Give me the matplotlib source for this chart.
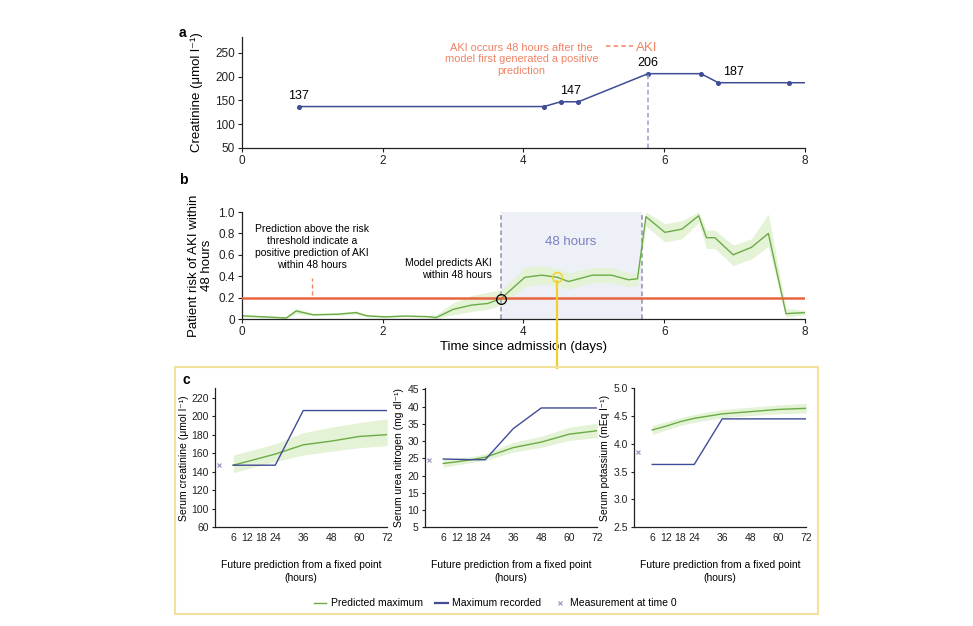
import matplotlib
matplotlib.use('Agg')
import matplotlib.pyplot as plt
import numpy as np
from matplotlib.lines import Line2D
from matplotlib.patches import Rectangle

plt.rcParams['font.family'] = ['Liberation Sans', 'DejaVu Sans']

# panel a: creatinine measurements
creat_days = [0.81, 4.29, 4.53, 4.78, 5.77, 6.52, 6.77, 7.77]
creat_vals = [137, 137, 147, 147, 206, 206, 187, 187]
creat_lbl_x = [0.81, 4.67, 5.77, 6.98]
creat_lbl_y = [137, 147, 206, 187]
aki_day = 5.77

# panel b: predicted risk of AKI within 48 hours
risk_days = [0, 0.32, 0.63, 0.77, 1.01, 1.36, 1.62, 1.77, 2.03, 2.31, 2.64, 2.76,
             3.0, 3.26, 3.49, 3.68, 4.02, 4.26, 4.48, 4.64, 4.98, 5.25, 5.49, 5.62,
             5.74, 6.01, 6.25, 6.49, 6.60, 6.72, 6.98, 7.24, 7.48, 7.73, 8.0]
risk = [0.03, 0.02, 0.01, 0.075, 0.04, 0.045, 0.06, 0.03, 0.02, 0.028, 0.022, 0.013,
        0.09, 0.13, 0.145, 0.19, 0.39, 0.41, 0.39, 0.35, 0.41, 0.41, 0.367, 0.376,
        0.957, 0.81, 0.84, 0.965, 0.76, 0.76, 0.60, 0.67, 0.80, 0.05, 0.06]
risk_lo = [0.02, 0.01, 0.005, 0.05, 0.03, 0.035, 0.045, 0.02, 0.01, 0.02, 0.015, 0.005,
           0.04, 0.07, 0.09, 0.13, 0.30, 0.33, 0.31, 0.28, 0.34, 0.34, 0.30, 0.31,
           0.87, 0.72, 0.75, 0.90, 0.66, 0.66, 0.50, 0.56, 0.68, 0.02, 0.04]
risk_hi = [0.04, 0.03, 0.02, 0.10, 0.05, 0.055, 0.075, 0.04, 0.03, 0.036, 0.03, 0.04,
           0.15, 0.22, 0.25, 0.27, 0.48, 0.50, 0.47, 0.43, 0.48, 0.48, 0.43, 0.43,
           1.0, 0.89, 0.92, 1.0, 0.83, 0.83, 0.69, 0.75, 0.98, 0.10, 0.08]
threshold = 0.2
window = (3.68, 5.68)
first_pos = (3.68, 0.19)
fixed_point = (4.48, 0.39)

# panel c: future predictions from the fixed point
hours = [6, 12, 18, 24, 36, 48, 60, 72]
hour_ticks = [6, 12, 18, 24, 36, 48, 60, 72]

creat_rec = [147, 147, 147, 147, 206, 206, 206, 206]
creat_pred = [147, 151, 155, 159, 169, 173, 178, 180]
creat_lo = [139, 143, 147, 151, 158, 162, 166, 168]
creat_hi = [158, 162, 166, 170, 182, 188, 193, 197]
creat_t0 = 147

urea_rec = [24.8, 24.7, 24.6, 24.6, 33.6, 39.6, 39.6, 39.6]
urea_pred = [23.5, 24.0, 24.6, 25.3, 28.1, 29.7, 32.0, 33.0]
urea_lo = [22.4, 23.1, 23.8, 24.4, 26.8, 28.2, 30.2, 31.0]
urea_hi = [24.8, 25.1, 25.5, 26.3, 29.6, 31.4, 34.0, 35.2]
urea_t0 = 24.5

pot_rec = [3.63, 3.63, 3.63, 3.63, 4.45, 4.45, 4.45, 4.45]
pot_pred = [4.25, 4.32, 4.40, 4.46, 4.54, 4.58, 4.62, 4.64]
pot_lo = [4.17, 4.25, 4.33, 4.39, 4.47, 4.51, 4.54, 4.56]
pot_hi = [4.33, 4.40, 4.47, 4.53, 4.62, 4.66, 4.70, 4.73]
pot_t0 = 3.86

NAVY = '#3f4c96'
GREEN = '#6aac45'
BAND = '#e4f2d6'
RED = '#e8653f'
SALMON = '#ef8466'
LAV = '#9a9cc8'
YELLOW = '#f3cf2a'

fig = plt.figure(figsize=(9.73, 6.26), dpi=100)


def style(ax, size=8.5):
    for s in ['top', 'right']:
        ax.spines[s].set_visible(False)
    for s in ['left', 'bottom']:
        ax.spines[s].set_linewidth(0.9)
        ax.spines[s].set_color('#222222')
    ax.tick_params(labelsize=size, length=3, width=0.8, pad=2, colors='#222222')


# ---- panel a
ax_a = fig.add_axes([0.2487, 0.7636, 0.5786, 0.1773])
style(ax_a)
ax_a.plot(creat_days + [8.0], creat_vals + [creat_vals[-1]], color=NAVY, lw=1.1)
ax_a.plot(creat_days, creat_vals, 'o', color=NAVY, ms=2.6)
for x, y in zip(creat_lbl_x, creat_lbl_y):
    ax_a.annotate(str(y), (x, y), xytext=(0, 3.5), textcoords='offset points',
                  ha='center', va='bottom', fontsize=9)
ax_a.vlines(aki_day, 50, 206, colors=LAV, linestyles=(0, (3, 2)), lw=1.1)
ax_a.text(3.97, 236, 'AKI occurs 48 hours after the\nmodel first generated a positive\nprediction',
          color=SALMON, fontsize=7.9, ha='center', va='center', linespacing=1.2)
ax_a.legend(handles=[Line2D([], [], color=SALMON, ls=(0, (3, 2)), lw=1.1)], labels=['AKI'],
            loc='center left', bbox_to_anchor=(0.626, 0.905), frameon=False,
            handlelength=2.0, handletextpad=0.25, labelcolor=SALMON, fontsize=9.5)
ax_a.set_xlim(0, 8)
ax_a.set_ylim(50, 283)
ax_a.set_xticks([0, 2, 4, 6, 8])
ax_a.set_yticks([50, 100, 150, 200, 250])
ax_a.set_ylabel('Creatinine (μmol l⁻¹)', fontsize=9.5, labelpad=9)

# ---- panel b
ax_b = fig.add_axes([0.2487, 0.4904, 0.5786, 0.1709])
style(ax_b)
ax_b.axvspan(window[0], window[1], color='#eef0f8', lw=0, zorder=0)
ax_b.vlines(list(window), 0, 1.0, colors='#8e92ad', linestyles=(0, (3, 2)), lw=1.1)
ax_b.fill_between(risk_days, risk_lo, risk_hi, color=BAND, lw=0, zorder=1)
ax_b.plot(risk_days, risk, color=GREEN, lw=1.0, zorder=2)
ax_b.axhline(threshold, color=RED, lw=1.8, zorder=3)
ax_b.plot(*first_pos, 'o', mfc='none', mec='black', ms=7, mew=0.9, zorder=4)
ax_b.plot(*fixed_point, 'o', mfc='none', mec=YELLOW, ms=7, mew=1.0, zorder=4)
ax_b.plot([fixed_point[0]] * 2, [fixed_point[1] - 0.035, -0.455], color=YELLOW, lw=1.6,
          clip_on=False, zorder=4)
ax_b.text(window[0] + (window[1] - window[0]) / 2 - 0.01, 0.72, '48 hours', color='#7b7fbf',
          fontsize=9.5, ha='center', va='center')
ax_b.text(0.99, 0.67, 'Prediction above the risk\nthreshold indicate a\npositive prediction of AKI\nwithin 48 hours',
          fontsize=7.5, ha='center', va='center', linespacing=1.25)
ax_b.vlines(1.0, 0.22, 0.38, colors=SALMON, linestyles=(0, (3, 2)), lw=1.0)
ax_b.text(3.55, 0.465, 'Model predicts AKI\nwithin 48 hours', fontsize=7.5, ha='right',
          va='center', linespacing=1.25)
ax_b.set_xlim(0, 8)
ax_b.set_ylim(0, 1.0)
ax_b.set_xticks([0, 2, 4, 6, 8])
ax_b.set_yticks([0, 0.2, 0.4, 0.6, 0.8, 1.0])
ax_b.set_yticklabels(['0', '0.2', '0.4', '0.6', '0.8', '1.0'])
ax_b.set_ylabel('Patient risk of AKI within\n48 hours', fontsize=9.5, labelpad=4, linespacing=1.1)
ax_b.set_xlabel('Time since admission (days)', fontsize=9.5, labelpad=2)

# ---- panel c
fig.add_artist(Rectangle((0.1799, 0.0192), 0.6608, 0.3946, transform=fig.transFigure,
                         fill=False, ec='#f2e19a', lw=1.5))

c_specs = [
    (0.221, creat_rec, creat_pred, creat_lo, creat_hi, creat_t0, (80, 230),
     [80, 100, 120, 140, 160, 180, 200, 220], ['60', '100', '120', '140', '160', '180', '200', '220'],
     'Serum creatinine (μmol l⁻¹)'),
    (0.4368, urea_rec, urea_pred, urea_lo, urea_hi, urea_t0, (5, 45.3),
     [5, 10, 15, 20, 25, 30, 35, 40, 45], ['5', '10', '15', '20', '25', '30', '35', '40', '45'],
     'Serum urea nitrogen (mg dl⁻¹)'),
    (0.6516, pot_rec, pot_pred, pot_lo, pot_hi, pot_t0, (2.5, 5.0),
     [2.5, 3.0, 3.5, 4.0, 4.5, 5.0], ['2.5', '3.0', '3.5', '4.0', '4.5', '5.0'],
     'Serum potassium (mEq l⁻¹)'),
]
for left, rec, pred, lo, hi, t0, ylim, yt, ytl, ylab in c_specs:
    ax = fig.add_axes([left, 0.1577, 0.1770, 0.222])
    style(ax, size=7.5)
    ax.fill_between(hours, lo, hi, color=BAND, lw=0)
    ax.plot(hours, pred, color=GREEN, lw=1.0)
    ax.plot(hours, rec, color=NAVY, lw=1.0)
    ax.plot([0], [t0], 'x', color=LAV, ms=3.5, mew=0.9)
    ax.set_xlim(-1.8, 72)
    ax.set_ylim(*ylim)
    ax.set_xticks(hour_ticks)
    ax.set_yticks(yt)
    ax.set_yticklabels(ytl)
    ax.tick_params(axis='x', length=0, pad=4)
    ax.tick_params(axis='y', length=2.5)
    ax.set_ylabel(ylab, fontsize=7.5, labelpad=2)
    ax.set_xlabel('Future prediction from a fixed point\n(hours)', fontsize=7.5, labelpad=12,
                  linespacing=1.4)

fig.legend(handles=[Line2D([], [], color=GREEN, lw=1.0),
                    Line2D([], [], color=NAVY, lw=1.6),
                    Line2D([], [], color=LAV, marker='x', ls='none', ms=3.5, mew=0.9)],
           labels=['Predicted maximum', 'Maximum recorded', 'Measurement at time 0'],
           loc='center', bbox_to_anchor=(0.509, 0.036), ncol=3, frameon=False, fontsize=7.5,
           handlelength=1.2, handletextpad=0.4, columnspacing=1.2)

fig.text(0.188, 0.947, 'a', fontsize=10, fontweight='bold', ha='center', va='center')
fig.text(0.188, 0.712, 'b', fontsize=10, fontweight='bold', ha='center', va='center')
fig.text(0.191, 0.393, 'c', fontsize=10, fontweight='bold', ha='center', va='center')

fig.savefig('out.png', dpi=100, facecolor='white')
